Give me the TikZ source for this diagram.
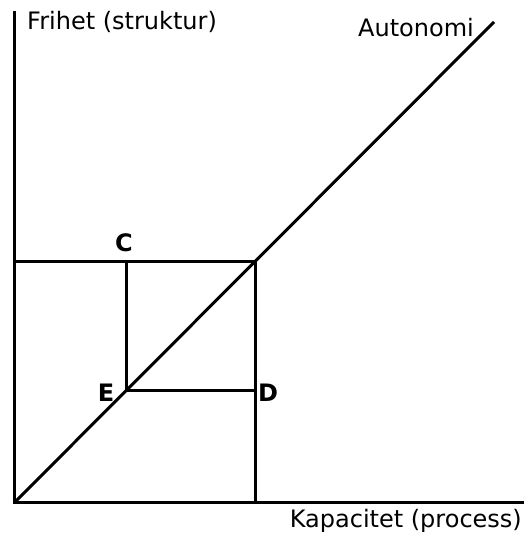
\documentclass[tikz,border=0pt]{standalone}
\usepackage{fontspec}
\setmainfont{DejaVu Sans}
\usepackage{tikz}
\usetikzlibrary{positioning,calc}

\begin{document}
\begin{tikzpicture}[
  x=1pt,y=1pt,
  font=\fontsize{24}{28}\selectfont,
  axis/.style={line width=3pt,line cap=rect},
  ln/.style={line width=3pt},
  lbl/.style={inner sep=0pt},
  pt/.style={inner sep=0pt,font=\fontsize{24}{28}\selectfont\bfseries}
]
\useasboundingbox (0,0) rectangle (528,533);
% axes
\coordinate (O) at (14,30);
\coordinate (ytop) at (14,520);
\coordinate (xend) at (522,30);
\coordinate (aut) at (494,511);
% square points
\coordinate (B) at (255,271);
\coordinate (Cp) at (126,271);
\coordinate (Ep) at (126,142);
\coordinate (Dp) at (255,142);
\coordinate (Cy) at (14,271);
\coordinate (Dx) at (255,30);

\draw[axis] (ytop) -- (O) -- (xend);
\draw[ln] (O) -- (aut);
\draw[ln] (Cy) -- (B) -- (Dx);
\draw[ln] (Cp) -- (Ep) -- (Dp);

\node[lbl,anchor=west] (frihet) at (27,511) {Frihet (struktur)};
\node[lbl,anchor=east] (autonomi) at (474,505) {Autonomi};
\node[lbl,anchor=east] (kap) at (522,12) {Kapacitet (process)};
\node[pt] (C) at (124,290) {C};
\node[pt] (E) at (106,140) {E};
\node[pt] (D) at (268,140) {D};
\end{tikzpicture}
\end{document}
